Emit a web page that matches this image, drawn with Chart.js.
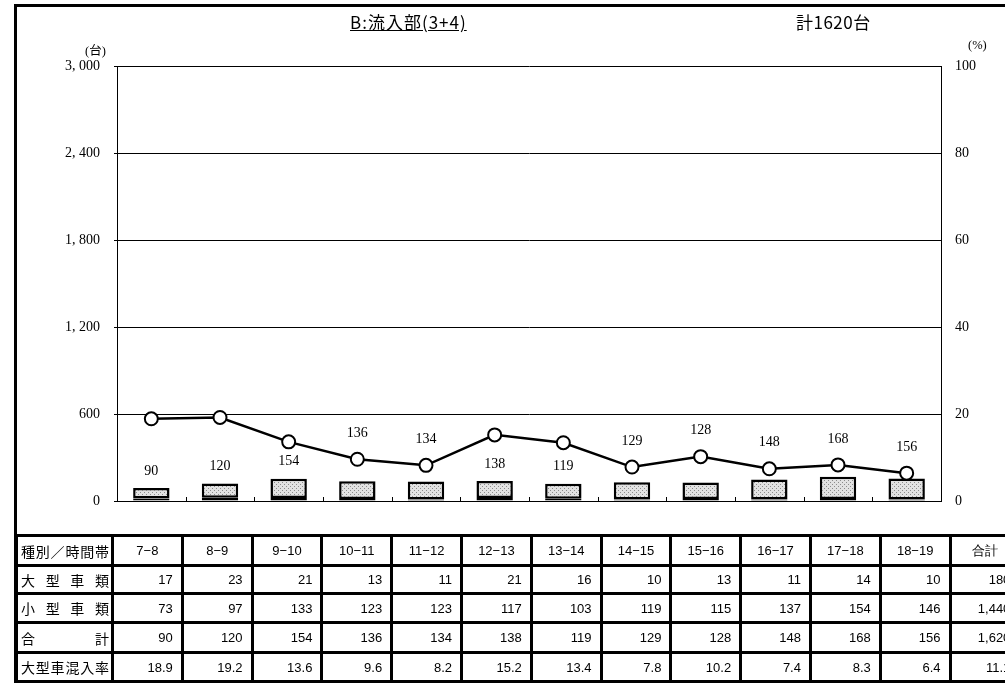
<!DOCTYPE html>
<html>
<head>
<meta charset="utf-8">
<script src="https://cdn.jsdelivr.net/npm/chart.js@4/dist/chart.umd.min.js"></script>
<style>
  body { margin: 0; width: 1005px; height: 683px; overflow: hidden; background: #fff; position: relative; }
  #frame { position: absolute; left: 14px; top: 4px; width: 1100px; height: 700px;
    border-left: 3px solid #000; border-top: 3px solid #000; box-sizing: border-box; }
  #chart { position: absolute; left: 0; top: 0; }
  .lbl { position: absolute; font-family: "Noto Sans CJK JP", sans-serif; color: #000; white-space: nowrap; }
  .unit { position: absolute; font-family: "Liberation Serif", "Noto Sans CJK JP", serif; font-size: 12.5px; white-space: nowrap; }
  #tbl { position: absolute; left: 15px; top: 534px; width: 1004px; border-collapse: collapse; table-layout: fixed;
    font-family: "Liberation Sans", Arial, sans-serif; font-size: 13px; }
  #tbl td { border: 3px solid #000; padding: 0 8px; text-align: right; overflow: hidden; white-space: nowrap; }
  #tbl td.name { font-family: "Noto Sans CJK JP", sans-serif; font-size: 14px; padding: 0 2px 0 3px;
    text-align: justify; text-align-last: justify; }
  #tbl td.hd { text-align: center; padding: 0; }
  #tbl tr.large td { border-bottom: 2px dotted #000; }
</style>
</head>
<body>
<canvas id="chart" width="1005" height="532"></canvas>
<div id="frame"></div>
<div class="lbl" style="left:350px; top:9px; font-size:17px; letter-spacing:1px; text-decoration:underline;">B:流入部(3+4)</div>
<div class="lbl" style="left:796px; top:9px; font-size:17px; letter-spacing:0.5px;">計1620台</div>
<div class="unit" style="left:85px; top:40px;">(台)</div>
<div class="unit" style="left:968px; top:38px;">(%)</div>
<table id="tbl"></table>
<script>
// 時間帯
const categories = ['7−8', '8−9', '9−10', '10−11', '11−12', '12−13', '13−14', '14−15', '15−16', '16−17', '17−18', '18−19'];
const largeVehicles = [17, 23, 21, 13, 11, 21, 16, 10, 13, 11, 14, 10];
const smallVehicles = [73, 97, 133, 123, 123, 117, 103, 119, 115, 137, 154, 146];
const totals = [90, 120, 154, 136, 134, 138, 119, 129, 128, 148, 168, 156];
const largeRatio = [18.9, 19.2, 13.6, 9.6, 8.2, 15.2, 13.4, 7.8, 10.2, 7.4, 8.3, 6.4];
const sumColumn = ['180', '1,440', '1,620', '11.1'];
const rowNames = ['大型車類', '小型車類', '合計', '大型車混入率'];

function dotPattern() {
  const c = document.createElement('canvas');
  c.width = 4; c.height = 4;
  const g = c.getContext('2d');
  g.fillStyle = '#e2e2e2';
  g.fillRect(0, 0, 4, 4);
  g.fillStyle = '#8c8c8c';
  g.fillRect(0, 0, 1, 1);
  g.fillRect(2, 2, 1, 1);
  return g.createPattern(c, 'repeat');
}

// 合計ラベル（線と重なる場合は点の上に出す）
const totalLabels = {
  id: 'totalLabels',
  afterDatasetsDraw(chart) {
    const ctx = chart.ctx;
    const bars = chart.getDatasetMeta(1).data;
    const pts = chart.getDatasetMeta(2).data;
    ctx.save();
    ctx.font = '14px "Liberation Serif", serif';
    ctx.fillStyle = '#000';
    ctx.textAlign = 'center';
    ctx.textBaseline = 'middle';
    totals.forEach((t, i) => {
      const top = bars[i].y;
      const py = pts[i].y;
      const y = (top - py > 30) ? top - 17 : py - 26;
      ctx.fillText(String(t), bars[i].x, y);
    });
    ctx.restore();
  }
};

// x軸の区切り目盛（内向き）
const innerTicks = {
  id: 'innerTicks',
  afterDraw(chart) {
    const x = chart.scales.x;
    const bottom = chart.chartArea.bottom;
    const ctx = chart.ctx;
    ctx.save();
    ctx.strokeStyle = '#000';
    ctx.lineWidth = 1;
    for (let i = 1; i < categories.length; i++) {
      const px = Math.round((x.getPixelForValue(i - 1) + x.getPixelForValue(i)) / 2) + 0.5;
      ctx.beginPath();
      ctx.moveTo(px, bottom);
      ctx.lineTo(px, bottom - 4);
      ctx.stroke();
    }
    ctx.restore();
  }
};

const dots = dotPattern();

new Chart(document.getElementById('chart'), {
  data: {
    labels: categories,
    datasets: [
      {
        type: 'bar',
        label: '大型車類',
        data: largeVehicles,
        backgroundColor: '#000',
        borderColor: '#000',
        borderWidth: 2,
        borderSkipped: false,
        barPercentage: 0.53,
        categoryPercentage: 1,
        yAxisID: 'y',
        order: 2
      },
      {
        type: 'bar',
        label: '小型車類',
        data: smallVehicles,
        backgroundColor: dots,
        borderColor: '#000',
        borderWidth: 2.5,
        borderSkipped: false,
        barPercentage: 0.53,
        categoryPercentage: 1,
        yAxisID: 'y',
        order: 2
      },
      {
        type: 'line',
        label: '大型車混入率',
        data: largeRatio,
        borderColor: '#000',
        borderWidth: 2.5,
        pointRadius: 6.5,
        pointBorderWidth: 2,
        pointBackgroundColor: '#fff',
        pointBorderColor: '#000',
        yAxisID: 'y2',
        order: 0
      }
    ]
  },
  options: {
    responsive: false,
    animation: false,
    layout: { padding: { top: 66, left: 0, right: 0, bottom: 0 } },
    plugins: { legend: { display: false }, tooltip: { enabled: false } },
    scales: {
      x: {
        stacked: true,
        grid: { display: false },
        border: { color: '#000', width: 1 },
        ticks: { display: false },
        afterFit(s) { s.height = 31; }
      },
      y: {
        stacked: true,
        position: 'left',
        min: 0,
        max: 3000,
        ticks: {
          stepSize: 600,
          color: '#000',
          padding: 14,
          font: { family: '"Liberation Serif", serif', size: 14 },
          callback: v => v >= 1000 ? Math.floor(v / 1000) + ', ' + String(v % 1000).padStart(3, '0') : String(v)
        },
        grid: { color: '#000', lineWidth: 1, tickLength: 3 },
        border: { color: '#000', width: 1 },
        afterFit(s) { s.width = 117; }
      },
      y2: {
        position: 'right',
        min: 0,
        max: 100,
        ticks: {
          stepSize: 20,
          color: '#000',
          padding: 14,
          font: { family: '"Liberation Serif", serif', size: 14 }
        },
        grid: { drawOnChartArea: false, drawTicks: false },
        border: { color: '#000', width: 1 },
        afterFit(s) { s.width = 64; }
      }
    }
  },
  plugins: [totalLabels, innerTicks]
});

// 表
const tbl = document.getElementById('tbl');
let html = '<colgroup><col style="width:96px">';
categories.forEach(() => { html += '<col style="width:69.8px">'; });
html += '<col style="width:69.8px"></colgroup>';
html += '<tr style="height:30px"><td class="name">種別／時間帯</td>';
categories.forEach(c => { html += '<td class="hd">' + c + '</td>'; });
html += '<td class="hd">合計</td></tr>';
const rows = [largeVehicles, smallVehicles, totals, largeRatio.map(v => v.toFixed(1))];
const heights = [28, 29, 30, 29];
rows.forEach((r, k) => {
  html += '<tr class="' + (k === 0 ? 'large' : '') + '" style="height:' + heights[k] + 'px"><td class="name">' + rowNames[k] + '</td>';
  r.forEach(v => { html += '<td>' + v + '</td>'; });
  html += '<td>' + sumColumn[k] + '</td></tr>';
});
tbl.innerHTML = html;
</script>
</body>
</html>
